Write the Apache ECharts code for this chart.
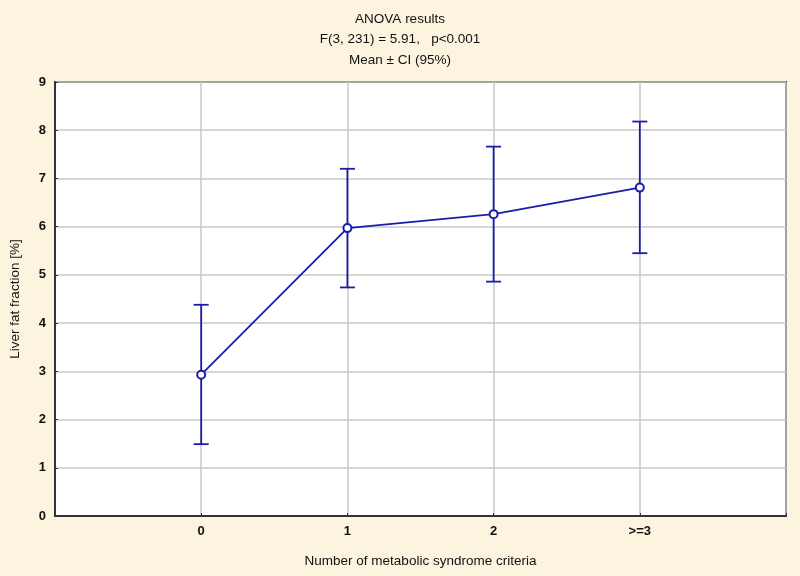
<!DOCTYPE html>
<html>
<head>
<meta charset="utf-8">
<script src="https://cdn.jsdelivr.net/npm/echarts@6/dist/echarts.min.js"></script>
<style>html,body{margin:0;padding:0;background:#fdf4df;}#c{width:800px;height:576px;}</style>
</head>
<body>
<div id="c"></div>
<script>
const categories = ['0', '1', '2', '>=3'];
const means = [2.93, 5.97, 6.26, 6.81];
const ciLower = [1.49, 4.74, 4.86, 5.45];
const ciUpper = [4.38, 7.20, 7.66, 8.18];
const titleLines = ['ANOVA results', 'F(3, 231) = 5.91,   p<0.001', 'Mean \u00b1 CI (95%)'];
const xAxisName = 'Number of metabolic syndrome criteria';
const yAxisName = 'Liver fat fraction [%]';

const blue = '#1c1ca8';
const chart = echarts.init(document.getElementById('c'), null, {renderer: 'canvas'});
const font = 'Liberation Sans, Arial, sans-serif';
const lineData = means.map((m, i) => [i, m]);
const errData = means.map((m, i) => [i, ciLower[i], ciUpper[i]]);

chart.setOption({
  backgroundColor: '#fdf4df',
  animation: false,
  title: {
    text: titleLines.join('\n'),
    left: 'center',
    top: 4,
    textStyle: {fontFamily: font, fontSize: 13.5, fontWeight: 'normal', color: '#111', lineHeight: 20.5}
  },
  grid: {left: 55, right: 14, top: 82, bottom: 60, show: true, backgroundColor: '#ffffff', borderColor: '#333', borderWidth: 2},
  xAxis: {
    type: 'value', min: -1, max: 4, interval: 1,
    name: xAxisName, nameLocation: 'middle', nameGap: 38,
    nameTextStyle: {fontFamily: font, fontSize: 13.5, color: '#111'},
    axisLine: {show: true, onZero: false, lineStyle: {color: '#333', width: 2}},
    axisTick: {show: true, inside: true, length: 3, lineStyle: {color: '#333'}},
    axisLabel: {
      fontFamily: font, fontSize: 13, fontWeight: 'bold', color: '#111', margin: 9,
      formatter: v => (v >= 0 && v < categories.length) ? categories[v] : ''
    },
    splitLine: {show: true, lineStyle: {color: '#c8c8c8', width: 1.5}}
  },
  yAxis: {
    type: 'value', min: 0, max: 9, interval: 1,
    name: yAxisName, nameLocation: 'middle', nameGap: 33,
    nameTextStyle: {fontFamily: font, fontSize: 13.5, color: '#111'},
    axisLine: {show: true, onZero: false, lineStyle: {color: '#333', width: 2}},
    axisTick: {show: true, inside: true, length: 3, lineStyle: {color: '#333'}},
    axisLabel: {fontFamily: font, fontSize: 13, fontWeight: 'bold', color: '#111', margin: 9},
    splitLine: {show: true, lineStyle: {color: '#c8c8c8', width: 1.5}}
  },
  series: [
    {
      type: 'custom',
      data: errData,
      z: 2,
      renderItem: function (params, api) {
        const x = api.value(0);
        const lo = api.coord([x, api.value(1)]);
        const hi = api.coord([x, api.value(2)]);
        const w = 7.5;
        const style = {stroke: blue, lineWidth: 1.8};
        return {
          type: 'group',
          children: [
            {type: 'line', shape: {x1: lo[0], y1: lo[1], x2: hi[0], y2: hi[1]}, style: style},
            {type: 'line', shape: {x1: lo[0] - w, y1: lo[1], x2: lo[0] + w, y2: lo[1]}, style: style},
            {type: 'line', shape: {x1: hi[0] - w, y1: hi[1], x2: hi[0] + w, y2: hi[1]}, style: style}
          ]
        };
      }
    },
    {
      type: 'line',
      data: lineData,
      z: 3,
      symbol: 'emptyCircle',
      symbolSize: 8,
      lineStyle: {color: blue, width: 1.8},
      itemStyle: {color: blue, borderColor: blue, borderWidth: 1.6}
    }
  ]
});
</script>
</body>
</html>
